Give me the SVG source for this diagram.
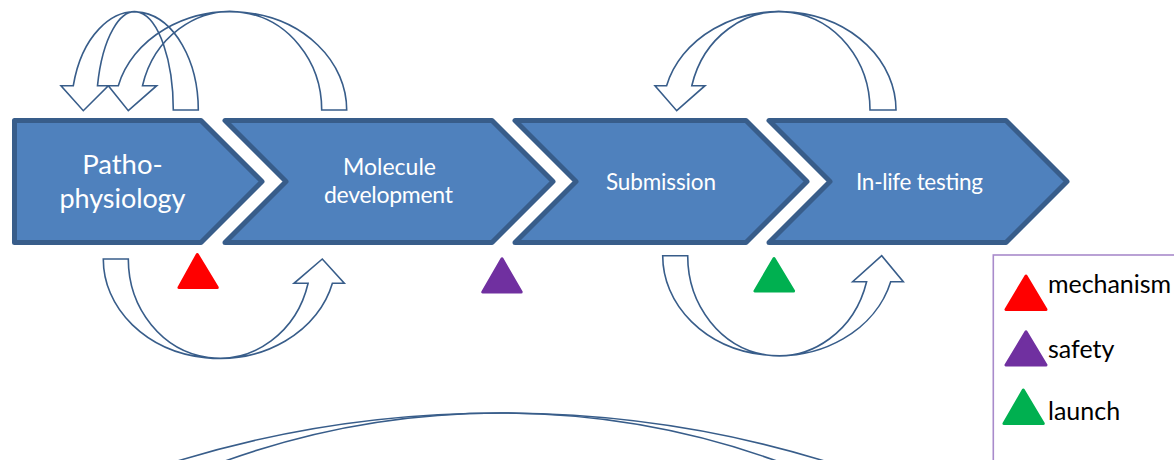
<svg xmlns="http://www.w3.org/2000/svg" width="1174" height="460" viewBox="0 0 1174 460">
<style>
.chev{fill:#4F81BD;stroke:#385D8A;stroke-width:5;stroke-linejoin:round}
.lbl{fill:#FFFFFF;font-family:Lato,"Open Sans","Liberation Sans",sans-serif;text-anchor:middle}
.arr{fill:none;stroke:#385D8A;stroke-width:1.6;stroke-linejoin:miter}
.leg{fill:#000000;font-family:Lato,"Open Sans","Liberation Sans",sans-serif;font-size:25px}
.tri{stroke-width:3;stroke-linejoin:round}
</style>
<rect width="1174" height="460" fill="#FFFFFF"/>
<g id="node-pathophysiology">
<path class="chev" d="M14.5,120.5 L201,120.5 L262,181.5 L201,242.5 L14.5,242.5 Z"/>
<text class="lbl" x="122.5" y="174" font-size="27.5">Patho-</text>
<text class="lbl" x="122.5" y="208" font-size="27" textLength="126">physiology</text>
</g>
<g id="node-molecule">
<path class="chev" d="M225,120.5 L492,120.5 L553,181.5 L492,242.5 L225,242.5 L286,181.5 Z"/>
<text class="lbl" x="389.5" y="175" font-size="23">Molecule</text>
<text class="lbl" x="388.5" y="203" font-size="23" textLength="129">development</text>
</g>
<g id="node-submission">
<path class="chev" d="M515,120.5 L746,120.5 L807,181.5 L746,242.5 L515,242.5 L576,181.5 Z"/>
<text class="lbl" x="661" y="190" font-size="22.5" textLength="110">Submission</text>
</g>
<g id="node-inlife">
<path class="chev" d="M769,120.5 L1006,120.5 L1067,181.5 L1006,242.5 L769,242.5 L830,181.5 Z"/>
<text class="lbl" x="919.5" y="190" font-size="22.5" textLength="127">In-life testing</text>
</g>
<g id="connectors">
<path class="arr" d="M173.3,110 L198.3,110 A63.5,98.3 0 0 0 73.3,85.7 L61,85.7 L83.3,110.7 L108.3,85.7 L97.5,85.7 A38.5,98.3 0 0 1 173.3,110 Z"/>
<path class="arr" d="M321.7,110 L346.7,110 A116,98.3 0 0 0 118.3,85.7 L108.3,85.7 L128.3,110.7 L156.7,85.7 L142.5,85.7 A91,98.3 0 0 1 321.7,110 Z"/>
<path class="arr" d="M870,110 L896,110 A116.5,98.3 0 0 0 666.6,85.7 L655,85.7 L676.7,110.7 L705,85.7 L691.8,85.7 A90.5,98.3 0 0 1 870,110 Z"/>
<path class="arr" d="M128.3,259 L103.3,259 A116.3,99.3 0 0 0 332.4,283.3 L344.3,283.3 L322.3,259 L294,283.3 L308.1,283.3 A91.3,99.3 0 0 1 128.3,259 Z"/>
<path class="arr" d="M687.7,255.7 L662.7,255.7 A116,100 0 0 0 890.7,281.7 L903.3,281.7 L881.7,255.7 L852.7,281.7 L866.6,281.7 A91,100 0 0 1 687.7,255.7 Z"/>
<path class="arr" d="M149.6,470 A948,800 0 0 1 852.4,470"/>
<path class="arr" d="M201.3,470 A808.6,800 0 0 1 800.7,470"/>
</g>
<g id="markers">
<polygon class="tri" fill="#FF0000" stroke="#FF0000" points="197.3,254.5 179,287.5 217.3,287.5"/>
<polygon class="tri" fill="#7030A0" stroke="#7030A0" points="502,258.8 482.8,292 521.2,292"/>
<polygon class="tri" fill="#00B050" stroke="#00B050" points="774,258.5 755,291 793.6,291"/>
</g>
<g id="legend">
<rect x="993.3" y="255" width="200" height="220" fill="none" stroke="#A98BCB" stroke-width="1.6"/>
<polygon class="tri" fill="#FF0000" stroke="#FF0000" points="1026,276 1006,309.5 1046,309.5"/>
<text class="leg" x="1048" y="292.7" textLength="123">mechanism</text>
<polygon class="tri" fill="#7030A0" stroke="#7030A0" points="1026,331.8 1006,365 1046,365"/>
<text class="leg" x="1048" y="358.3">safety</text>
<polygon class="tri" fill="#00B050" stroke="#00B050" points="1023.3,390 1004,423.5 1043.3,423.5"/>
<text class="leg" x="1048" y="420">launch</text>
</g>
</svg>
